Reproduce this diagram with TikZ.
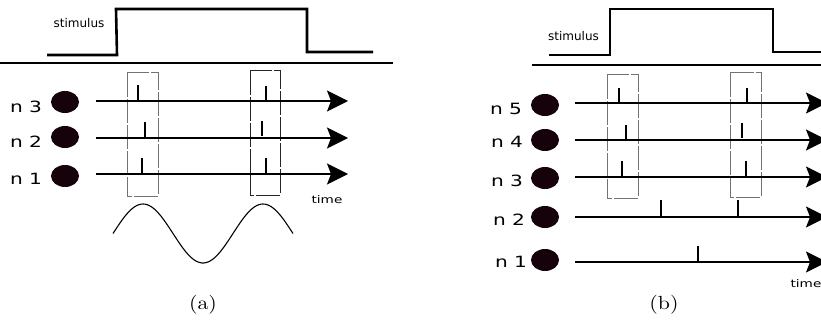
\documentclass[tikz,border=0pt]{standalone}
\usepackage{fontspec}
\usepackage{tikz}
\usetikzlibrary{shapes.geometric, arrows.meta}
\newfontfamily\etichetta[FakeStretch=1.3]{DejaVu Sans}
\newfontfamily\stimolo{DejaVu Sans}
\newfontfamily\didascalia[FakeStretch=1.15]{lmroman10-regular.otf}
\definecolor{rossoscuro}{RGB}{22,2,10}
\tikzset{
  neurone/.style = {ellipse, fill=rossoscuro, minimum width=28pt, minimum height=22pt, inner sep=0pt},
  nome/.style = {anchor=base, inner sep=0pt, font=\etichetta\fontsize{15.5}{17}\selectfont},
  tempo/.style = {inner sep=0pt, font=\etichetta\fontsize{10.5}{12}\selectfont},
  testo/.style = {anchor=base, inner sep=0pt, font=\stimolo\fontsize{12}{14}\selectfont},
  didas/.style = {inner sep=0pt, font=\didascalia\fontsize{19}{21}\selectfont},
  asse/.style = {line width=1.7pt, -{Stealth[length=21pt, width=21pt, inset=4pt]}},
  spike/.style = {line width=2.6pt},
  gradino/.style = {line width=2.6pt, line join=miter},
  separa/.style = {line width=1.6pt},
  scatola/.style = {draw=black!55, line width=1pt, dash pattern=on 24pt off 2pt},
  onda/.style = {line width=1.1pt}
}
\begin{document}
\begin{tikzpicture}[x=1pt, y=-1pt]
    \useasboundingbox (0,0) rectangle (821,323);
    \clip (0,0) rectangle (821,323);
    % (a) Stimolo
    \draw[gradino] (47,55) -- (117,55) -- (116,9) -- (307,9) -- (307,52) -- (373,52);
    \node[testo] (stima) at (79,28) {stimulus};
    \draw[separa] (0,63) -- (393,63);
    % (a) Finestre
    \draw[scatola] (127,73) rectangle (158,196);
    \draw[scatola, draw=black!85] (250,71) rectangle (280,195);
    % (a) Neuroni
    \node[neurone] (a3) at (65,102) {};
    \node[neurone] (a2) at (65,137) {};
    \node[neurone] (a1) at (65,176) {};
    \node[nome] (na3) at (26,113) {n 3};
    \node[nome] (na2) at (26,148) {n 2};
    \node[nome] (na1) at (26,184) {n 1};
    \coordinate (ia3) at (96,101);   \coordinate (fa3) at (348,101);
    \coordinate (ia2) at (96,138);   \coordinate (fa2) at (348,138);
    \coordinate (ia1) at (96,174);   \coordinate (fa1) at (348,174);
    \draw[asse] (ia3) -- (fa3);
    \draw[asse] (ia2) -- (fa2);
    \draw[asse] (ia1) -- (fa1);
    \node[tempo] (ta) at (327,199.5) {time};
    % (a) Spike
    \draw[spike] (138,85) -- (138,101);
    \draw[spike] (266,86) -- (266,101);
    \draw[spike] (145,122) -- (145,138);
    \draw[spike] (262,121) -- (262,136);
    \draw[spike] (142,158) -- (142,174);
    \draw[spike] (266,158) -- (266,174);
    % (a) Oscillazione
    \draw[onda] plot[domain=113:293, samples=90] (\x, {233.5-29.5*cos(3*(\x-143))});
    \node[didas] (capa) at (203,305) {(a)};
    % (b) Stimolo
    \draw[gradino] (549,55) -- (610,55) -- (610,9) -- (773,9) -- (773,52) -- (830,52);
    \node[testo] (stimb) at (573.5,41) {stimulus};
    \draw[separa] (532,65) -- (830,65);
    % (b) Finestre
    \draw[scatola] (607,75) rectangle (638,198);
    \draw[scatola] (730,73) rectangle (761,197);
    % (b) Neuroni
    \node[neurone] (b5) at (545,105) {};
    \node[neurone] (b4) at (545,140) {};
    \node[neurone] (b3) at (545,178) {};
    \node[neurone] (b2) at (545,217) {};
    \node[neurone] (b1) at (545,260) {};
    \node[nome] (nb5) at (506,115) {n 5};
    \node[nome] (nb4) at (507,148) {n 4};
    \node[nome] (nb3) at (507,186) {n 3};
    \node[nome] (nb2) at (509,225) {n 2};
    \node[nome] (nb1) at (511,267) {n 1};
    \coordinate (ib5) at (575,103);   \coordinate (fb5) at (827,103);
    \coordinate (ib4) at (575,140);   \coordinate (fb4) at (827,140);
    \coordinate (ib3) at (575,177);   \coordinate (fb3) at (827,177);
    \coordinate (ib2) at (575,217);   \coordinate (fb2) at (827,217);
    \coordinate (ib1) at (575,262);   \coordinate (fb1) at (827,262);
    \draw[asse] (ib5) -- (fb5);
    \draw[asse] (ib4) -- (fb4);
    \draw[asse] (ib3) -- (fb3);
    \draw[asse] (ib2) -- (fb2);
    \draw[asse] (ib1) -- (fb1);
    \node[tempo] (tb) at (806,284) {time};
    % (b) Spike
    \draw[spike] (619,88) -- (619,103);
    \draw[spike] (747,88) -- (747,103);
    \draw[spike] (626,125) -- (626,140);
    \draw[spike] (742,123) -- (742,138);
    \draw[spike] (622,161) -- (622,177);
    \draw[spike] (746,161) -- (746,177);
    \draw[spike] (661,200) -- (661,217);
    \draw[spike] (738,200) -- (738,217);
    \draw[spike] (698,246) -- (698,262);
    \node[didas] (capb) at (664,305) {(b)};
\end{tikzpicture}
\end{document}
